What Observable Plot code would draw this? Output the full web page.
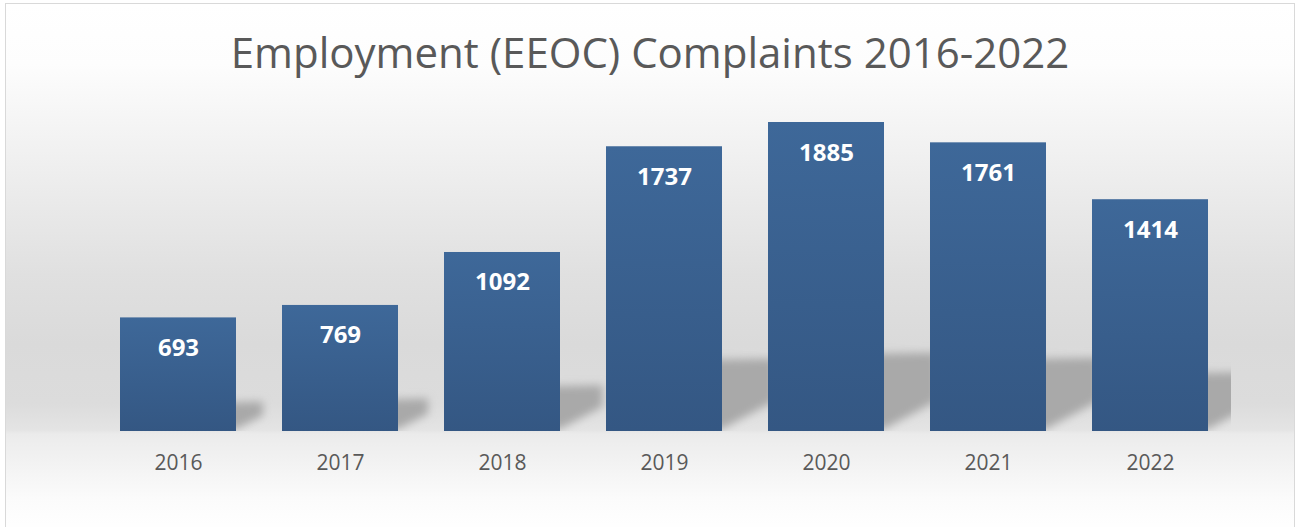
<!DOCTYPE html>
<html>
<head>
<meta charset="utf-8">
<script src="https://cdn.jsdelivr.net/npm/d3@7"></script>
<script src="https://cdn.jsdelivr.net/npm/@observablehq/plot@0.6"></script>
<style>
  html, body { margin: 0; padding: 0; background: #ffffff; overflow: hidden; }
  #wrap {
    position: absolute; left: 5px; top: 3px; width: 1288px; height: 540px;
    border: 1px solid #d9d9d9;
    background: linear-gradient(to bottom,
      #ffffff 0px, #fdfdfd 60px, #f6f6f6 110px, #ebebeb 190px, #e0e0e0 270px,
      #dadada 340px, #dcdcdc 400px, #e4e4e4 426px, #ebebeb 430px, #eeeeee 440px,
      #f5f5f5 470px, #fbfbfb 495px, #fefefe 520px);
    font-family: "Open Sans", sans-serif;
  }
  #title {
    position: absolute; left: 0; top: 27px; width: 1288px; text-align: center;
    font-size: 42px; line-height: 41px; color: #595959; font-weight: 400;
  }
  #chart { position: absolute; left: 0; top: 100px; }
</style>
</head>
<body>
<div id="wrap">
  <div id="title">Employment (EEOC) Complaints 2016-2022</div>
  <div id="chart"></div>
</div>
<script>
const years = ["2016", "2017", "2018", "2019", "2020", "2021", "2022"];
const complaints = [693, 769, 1092, 1737, 1885, 1761, 1414];

const data = years.map((year, i) => ({year, count: complaints[i]}));

const W = 1288, H = 423, ML = 91, MR = 63, MT = 18, MB = 96;

const chart = Plot.plot({
  width: W,
  height: H,
  marginLeft: ML,
  marginRight: MR,
  marginTop: MT,
  marginBottom: MB,
  style: {background: "transparent", fontFamily: "'Open Sans', sans-serif", overflow: "visible"},
  x: {domain: years, paddingInner: 0.284, paddingOuter: 0.142, label: null},
  y: {domain: [0, d3.max(complaints)], axis: null},
  marks: [
    // floor shadow of each bar (reshaped below from the scaled rect)
    Plot.rectY(data, {x: "year", y1: 0, y2: d => d.count * 0.25, fill: "#a9a9a9"}),
    Plot.barY(data, {x: "year", y: "count", fill: "url(#barGrad)"}),
    Plot.text(data, {
      x: "year", y: "count", text: d => String(d.count),
      dy: 38, lineAnchor: "bottom", fill: "white", fontWeight: "bold", fontSize: 24
    }),
    Plot.axisX({tickSize: 0, tickPadding: 23.6, fontSize: 21, color: "#595959", label: null})
  ]
});

const ns = "http://www.w3.org/2000/svg";
const defs = document.createElementNS(ns, "defs");
const grad = document.createElementNS(ns, "linearGradient");
grad.setAttribute("id", "barGrad");
grad.setAttribute("x1", "0"); grad.setAttribute("y1", "0");
grad.setAttribute("x2", "0"); grad.setAttribute("y2", "1");
[["0%", "#3e6899"], ["100%", "#345783"]].forEach(([o, c]) => {
  const s = document.createElementNS(ns, "stop");
  s.setAttribute("offset", o); s.setAttribute("stop-color", c);
  grad.appendChild(s);
});
defs.appendChild(grad);
const filt = document.createElementNS(ns, "filter");
filt.setAttribute("id", "shadowBlur");
filt.setAttribute("filterUnits", "userSpaceOnUse");
filt.setAttribute("x", "0"); filt.setAttribute("y", "0");
filt.setAttribute("width", String(W)); filt.setAttribute("height", String(H));
const blur = document.createElementNS(ns, "feGaussianBlur");
blur.setAttribute("stdDeviation", "4");
filt.appendChild(blur);
defs.appendChild(filt);
const clip = document.createElementNS(ns, "clipPath");
clip.setAttribute("id", "frameClip");
const clipRect = document.createElementNS(ns, "rect");
clipRect.setAttribute("x", String(ML)); clipRect.setAttribute("y", "0");
clipRect.setAttribute("width", String(W - ML - MR)); clipRect.setAttribute("height", String(H - MB));
clip.appendChild(clipRect);
defs.appendChild(clip);
chart.insertBefore(defs, chart.firstChild);

// Turn each shadow rect into a perspective floor shadow
const shadowGroup = chart.querySelector('g[aria-label="rect"]');
if (shadowGroup) {
  const inner = document.createElementNS(ns, "g");
  inner.setAttribute("filter", "url(#shadowBlur)");
  shadowGroup.querySelectorAll("rect").forEach(r => {
    const x = +r.getAttribute("x"), y = +r.getAttribute("y");
    const w = +r.getAttribute("width"), h = +r.getAttribute("height");
    const R = x + w, B = y + h, top = y;
    const reach = Math.min(52, h * 0.95);
    const p = document.createElementNS(ns, "path");
    p.setAttribute("d",
      `M${R - 12},${top} L${R + reach},${top - 1} L${R + reach},${B - Math.min(30, h * 0.55)} L${R},${B - 2} L${R - 12},${B - 2} Z`);
    p.setAttribute("fill", r.getAttribute("fill") || "#a9a9a9");
    inner.appendChild(p);
    r.remove();
  });
  shadowGroup.appendChild(inner);
  shadowGroup.setAttribute("clip-path", "url(#frameClip)");
}

document.getElementById("chart").appendChild(chart);
</script>
</body>
</html>
